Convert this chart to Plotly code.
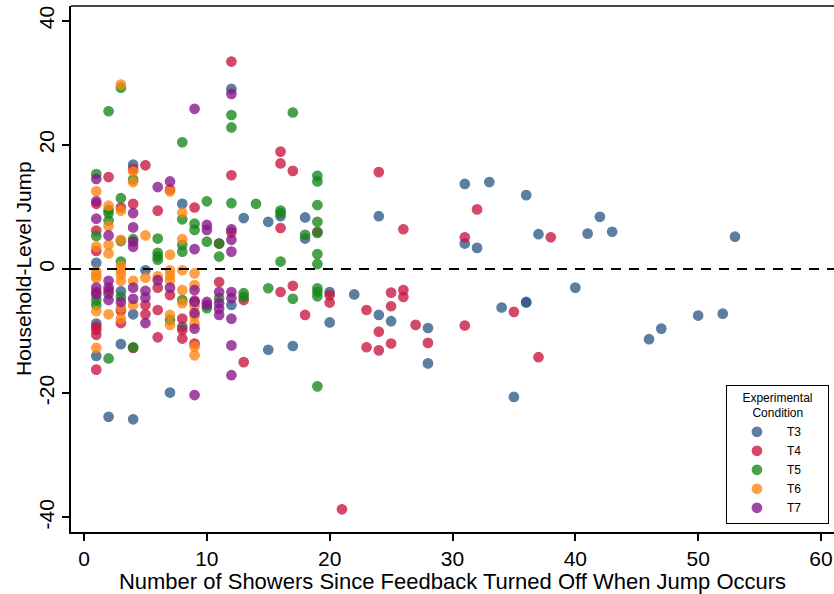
import plotly.graph_objects as go

# ---- data (x = showers since feedback off, y = household-level jump) ----
t3_x = [1, 1, 1, 2, 2, 3, 3, 4, 4, 4, 5, 7, 8, 8, 12, 12, 13, 15, 15, 16, 17, 18, 18,
        20, 20, 22, 24, 24, 25, 28, 28, 31, 31, 32, 33, 34, 35, 36, 36, 36, 37, 40,
        41, 42, 43, 46, 47, 50, 52, 53]
t3_y = [1.0, -8.8, -14.0, -4.0, -23.8, -3.6, -12.1, 16.8, -7.3, -24.2, -0.2, -19.9,
        10.5, -9.3, 29.0, -5.8, 8.2, 7.6, -13.0, 8.5, -12.4, 8.3, 4.9, -3.7, -8.6,
        -4.1, 8.5, -7.4, -8.4, -9.5, -15.2, 13.7, 4.1, 3.4, 14.0, -6.2, -20.6, 11.9,
        -5.3, -5.4, 5.6, -3.0, 5.7, 8.4, 6.0, -11.3, -9.6, -7.5, -7.2, 5.2]

t4_x = [1, 1, 1, 1, 1, 1, 1, 1, 2, 2, 3, 3, 3, 4, 4, 4, 5, 5, 5, 6, 6, 6, 6, 7, 7,
        8, 8, 8, 9, 9, 9, 11, 11, 12, 12, 12, 13, 13, 16, 16, 16, 16, 17, 17, 18,
        19, 20, 20, 21, 23, 23, 24, 24, 24, 25, 25, 25, 26, 26, 26, 27, 28, 31, 31,
        32, 35, 37, 38]
t4_y = [10.5, 6.2, 2.9, -3.7, -9.3, -9.8, -10.6, -16.2, 14.8, -3.5, 9.9, -6.7, -8.7,
        16.1, 10.5, -12.7, 16.7, -5.8, -7.3, 9.4, -3.0, -6.6, -11.0, 12.8, -4.2,
        -8.0, -9.8, -11.2, 9.9, -5.1, -12.0, 4.1, -2.1, 33.4, 15.1, 5.9, -15.0, -5.0,
        18.9, 17.0, 6.6, -3.7, 15.8, -2.7, -7.4, 6.0, -4.2, -5.4, -38.7, -6.6, -12.6,
        15.6, -10.1, -13.1, -3.8, -6.0, -12.0, 6.4, -3.4, -4.5, -9.0, -11.9, 5.1,
        -9.1, 9.6, -6.9, -14.2, 5.1]

t5_x = [1, 1, 1, 1, 2, 2, 2, 2, 2, 3, 3, 3, 3, 3, 4, 4, 4, 6, 6, 6, 6, 7, 8, 8, 8,
        8, 8, 9, 9, 10, 10, 10, 11, 11, 11, 12, 12, 12, 13, 13, 14, 15, 16, 16, 16,
        17, 17, 18, 19, 19, 19, 19, 19, 19, 19, 19, 19, 19, 19]
t5_y = [15.3, 5.3, -5.0, -5.8, 25.4, 9.5, 9.0, 7.8, -14.4, 29.2, 11.4, 4.5, 1.2,
        -4.5, 14.4, 4.8, -12.6, 4.9, 2.6, 2.0, 1.5, -8.2, 20.4, 8.0, 3.9, 2.8, -5.0,
        7.3, 6.3, 10.9, 4.4, -6.3, 4.1, 2.0, -4.7, 24.8, 22.8, 10.6, -3.9, -4.5,
        10.5, -3.1, 9.4, 9.0, 1.2, 25.2, -4.8, 5.5, 15.0, 14.1, 10.3, 7.6, 5.8, 2.4,
        0.8, -3.1, -3.7, -4.4, -18.9]

t6_x = [1, 1, 1, 1, 1, 1, 1, 2, 2, 2, 2, 2, 3, 3, 3, 3, 3, 3, 3, 3, 3, 4, 4, 4, 4,
        5, 5, 6, 7, 7, 7, 7, 7, 7, 7, 8, 8, 8, 8, 8, 9, 9, 9, 9, 9, 9, 9]
t6_y = [12.5, 3.6, -0.4, -1.0, -1.5, -6.8, -12.7, 10.2, 6.9, 3.9, 2.5, -7.3, 29.7,
        9.4, 4.7, 0.5, -0.2, -0.9, -1.9, -6.2, -8.0, 15.7, 14.0, -1.9, -5.8, 5.4,
        -1.4, -1.2, 2.3, 12.5, -0.2, -1.0, -1.8, -7.4, -9.0, 9.1, 4.8, -0.2, -3.4,
        -5.5, -0.7, -2.6, -6.0, -7.6, -8.8, -12.5, -13.9]

t7_x = [1, 1, 1, 1, 1, 2, 2, 2, 2, 3, 4, 4, 4, 4, 4, 4, 5, 5, 5, 6, 6, 7, 7, 9, 9,
        9, 9, 9, 9, 9, 10, 10, 10, 10, 11, 11, 11, 11, 12, 12, 12, 12, 12, 12, 12,
        12, 12]
t7_y = [14.5, 10.9, 8.1, -3.0, -4.1, 5.4, -1.9, -3.0, -5.0, -5.3, 9.0, 6.7, 4.4,
        3.6, -3.0, -4.8, -3.5, -4.6, -8.7, 13.2, -1.8, 14.1, -3.0, 25.8, 3.2, -3.4,
        -5.3, -7.1, -9.6, -20.3, 7.1, 6.3, -5.3, -5.8, -3.7, -5.5, -6.4, -7.4, 28.2,
        6.4, 4.7, 2.8, -3.7, -4.7, -8.0, -12.3, -17.1]

series_names = ["T3", "T4", "T5", "T6", "T7"]
series_x = [t3_x, t4_x, t5_x, t6_x, t7_x]
series_y = [t3_y, t4_y, t5_y, t6_y, t7_y]
colors = ["#2e5a87", "#c8163f", "#16871a", "#ff8512", "#86168a"]

x_ticks = [0, 10, 20, 30, 40, 50, 60]
y_ticks = [-40, -20, 0, 20, 40]
y_tick_text = ["-40", "-20", "0", "20", "40"]

FONT = "Liberation Sans, Arial, Helvetica, sans-serif"
NB = "&nbsp;"

fig = go.Figure()
for name, xs, ys, c in zip(series_names, series_x, series_y, colors):
    fig.add_trace(go.Scatter(
        x=xs, y=ys, mode="markers", name=name,
        marker=dict(size=9.5, color=c, opacity=0.78,
                    line=dict(width=1.2, color=c)),
    ))

fig.add_hline(y=0, line=dict(color="black", width=2, dash="10px,8px"))
# top frame line
fig.add_shape(type="line", xref="paper", yref="paper", x0=0, x1=1, y0=1, y1=1,
              line=dict(color="#444", width=2))

# y-axis title (placed as rotated text to match the reference position)
fig.add_annotation(text="Household-Level Jump", xref="paper", yref="paper",
                   x=-0.0629, y=0.5, xanchor="center", yanchor="middle",
                   textangle=-90, showarrow=False,
                   font=dict(size=21, family=FONT, color="black"))

legend_title = NB * 4 + "Experimental" + NB * 4 + "<br>" + NB * 7 + "Condition"

fig.update_layout(
    width=834, height=594,
    margin=dict(l=71, r=0, t=6, b=62),
    plot_bgcolor="white", paper_bgcolor="white",
    font=dict(family=FONT, color="black"),
    showlegend=True,
    legend=dict(
        x=0.9934, y=0.015, xanchor="right", yanchor="bottom",
        bordercolor="black", borderwidth=1, bgcolor="white",
        font=dict(size=12, family=FONT),
        title=dict(text=legend_title, side="top center",
                   font=dict(size=12, family=FONT)),
        tracegroupgap=0, itemwidth=50,
    ),
    xaxis=dict(
        range=[-1.06, 61.06], tickvals=x_ticks, ticks="outside", ticklen=7,
        tickwidth=1.5, tickcolor="black", showline=True, linecolor="black",
        linewidth=2, showgrid=False, zeroline=False,
        tickfont=dict(size=21, family=FONT),
        title=dict(text="Number of Showers Since Feedback Turned Off When Jump Occurs",
                   font=dict(size=22, family=FONT), standoff=4),
    ),
    yaxis=dict(
        range=[-42.35, 42.35], tickvals=y_ticks, ticktext=y_tick_text,
        ticks="outside", ticklen=7,
        tickwidth=1.5, tickcolor="black", showline=True, linecolor="black",
        linewidth=2, showgrid=False, zeroline=False, tickangle=-90,
        tickfont=dict(size=21, family=FONT),
    ),
)

fig.write_html("out.html")
